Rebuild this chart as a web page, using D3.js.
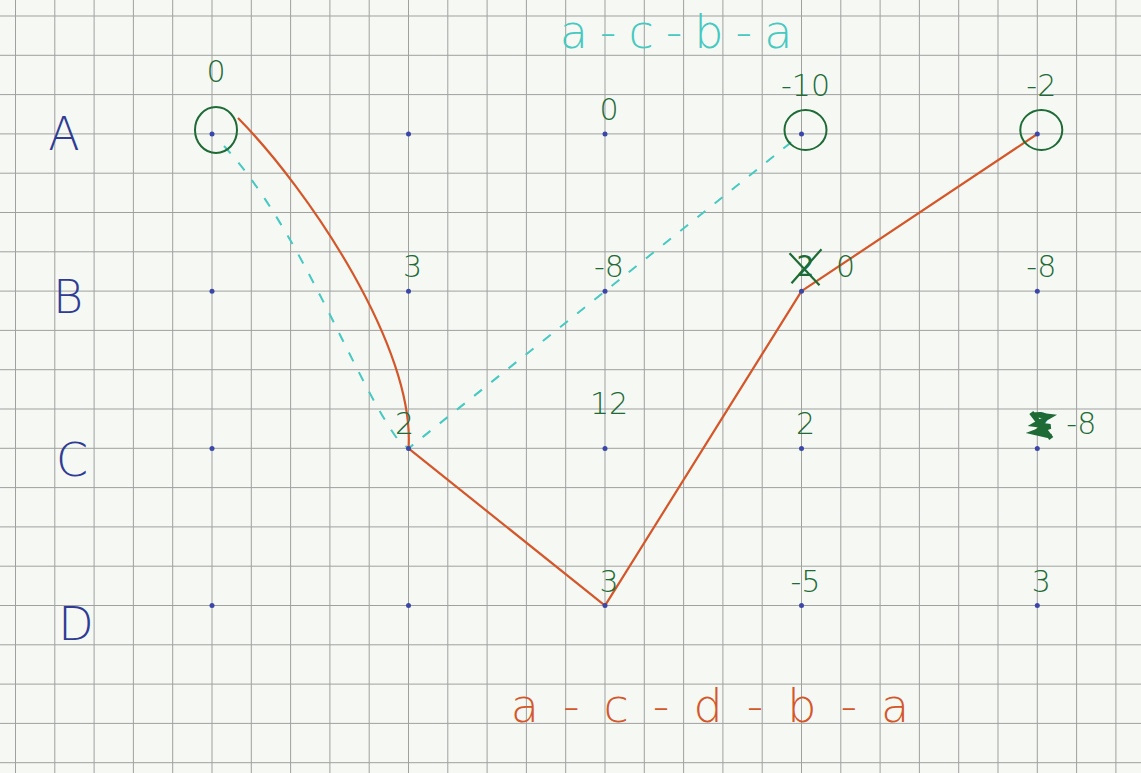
<!DOCTYPE html>
<html>
<head>
<meta charset="utf-8">
<script src="https://cdn.jsdelivr.net/npm/d3@7"></script>
<style>
  html, body { margin: 0; padding: 0; background: #f6f8f4; }
  svg { display: block; }
  text { font-family: "DejaVu Sans", sans-serif; }
</style>
</head>
<body>
<svg id="chart"></svg>
<script>
// stages (columns) and states (rows) of the little shortest-path sketch
const stages = [0, 1, 2, 3, 4];
const states = ["A", "B", "C", "D"];

// green numbers written next to each node (null = nothing written)
const valuesA = ["0", null, "0", "-10", "-2"];
const valuesB = [null, "3", "-8", "0", "-8"];
const valuesC = [null, "2", "12", "2", "-8"];
const valuesD = [null, null, "3", "-5", "3"];

// numbers that were crossed out on the paper
const crossedOut = [
    { state: "B", stage: 3, text: "2" },
    { state: "C", stage: 4, text: "2" }
];

// circled nodes
const circled = [
    { state: "A", stage: 0 },
    { state: "A", stage: 3 },
    { state: "A", stage: 4 }
];

// the two routes, one state per stage
const routeOrange = ["A", "C", "D", "B", "A"];
const routeCyan = ["A", "C", "B", "A"];
const titleCyan = "a-c-b-a";
const titleOrange = "a-c-d-b-a";

const width = 1141;
const height = 773;
const cell = 39.3;
const green = '#1e6b36';

const svg = d3.select('#chart')
    .attr('width', width)
    .attr('height', height);

// squared paper
const gridX = d3.range(15.5, width, cell);
const gridY = d3.range(16, height, cell);

svg.append('rect')
    .attr('width', width)
    .attr('height', height)
    .attr('fill', '#f6f8f4');

svg.append('g')
    .selectAll('line')
    .data(gridX)
    .enter()
    .append('line')
    .attr('x1', d => d).attr('x2', d => d)
    .attr('y1', 0).attr('y2', height)
    .attr('stroke', '#9fa19f')
    .attr('stroke-width', 1);

svg.append('g')
    .selectAll('line')
    .data(gridY)
    .enter()
    .append('line')
    .attr('x1', 0).attr('x2', width)
    .attr('y1', d => d).attr('y2', d => d)
    .attr('stroke', '#9fa19f')
    .attr('stroke-width', 1);

// the last column sits one square further out on the paper
const x = d3.scaleLinear()
    .domain([0, 3, 4])
    .range([212, 212 + 15 * cell, 212 + 21 * cell]);

const y = d3.scalePoint()
    .domain(states)
    .range([134, 134 + 12 * cell]);

const values = { A: valuesA, B: valuesB, C: valuesC, D: valuesD };

// cyan route: wobbly first leg, then straight dashes
svg.append('path')
    .attr('d', () => {
        const pts = routeCyan.map((s, i) => [x(i), y(s)]);
        const p = d3.path();
        const dx = pts[1][0] - pts[0][0], dy = pts[1][1] - pts[0][1];
        p.moveTo(pts[0][0] + 12, pts[0][1] + 12);
        p.bezierCurveTo(pts[0][0] + dx * 0.45, pts[0][1] + dy * 0.3,
                        pts[0][0] + dx * 0.72, pts[0][1] + dy * 0.78,
                        pts[1][0] - 10, pts[1][1] - 8);
        for (let i = 1; i < pts.length; i++) p.lineTo(pts[i][0], pts[i][1]);
        return p.toString();
    })
    .attr('fill', 'none')
    .attr('stroke', '#45c9c1')
    .attr('stroke-width', 2)
    .attr('stroke-dasharray', '10,12');

// orange route: the first leg bows out, the rest nearly straight
svg.append('path')
    .attr('d', () => {
        const pts = routeOrange.map((s, i) => [x(i), y(s)]);
        const p = d3.path();
        const x0 = pts[0][0] + 26, y0 = pts[0][1] - 16;
        const dx = pts[1][0] - x0, dy = pts[1][1] - y0;
        p.moveTo(x0, y0);
        p.bezierCurveTo(x0 + dx * 0.42, y0 + dy * 0.22,
                        pts[1][0] + 7, y0 + dy * 0.7,
                        pts[1][0], pts[1][1]);
        for (let i = 2; i < pts.length; i++) p.lineTo(pts[i][0], pts[i][1]);
        return p.toString();
    })
    .attr('fill', 'none')
    .attr('stroke', '#d4572a')
    .attr('stroke-width', 2.2)
    .attr('stroke-linejoin', 'round');

// node dots
const nodes = [];
states.forEach(s => stages.forEach(st => nodes.push({ state: s, stage: st, value: values[s][st] })));

svg.append('g')
    .selectAll('circle')
    .data(nodes)
    .enter()
    .append('circle')
    .attr('cx', d => x(d.stage))
    .attr('cy', d => y(d.state))
    .attr('r', 2.5)
    .attr('fill', '#3b47a8');

// circled nodes
svg.append('g')
    .selectAll('ellipse')
    .data(circled)
    .enter()
    .append('ellipse')
    .attr('cx', d => x(d.stage) + 4)
    .attr('cy', d => y(d.state) - 4)
    .attr('rx', 21)
    .attr('ry', d => d.stage === 0 ? 23 : 20)
    .attr('fill', 'none')
    .attr('stroke', green)
    .attr('stroke-width', 2);

// green numbers
const isCircled = d => circled.some(c => c.state === d.state && c.stage === d.stage);
const isCrossed = d => crossedOut.some(c => c.state === d.state && c.stage === d.stage);

svg.append('g')
    .selectAll('text')
    .data(nodes.filter(d => d.value !== null))
    .enter()
    .append('text')
    .attr('x', d => x(d.stage) + (isCrossed(d) ? 44 : (d.state === 'C' && d.stage === 1 ? -4 : 4)))
    .attr('y', d => y(d.state) - (isCircled(d) ? (d.stage === 0 ? 52 : 38) : (d.state === 'C' && d.stage === 2 ? 34 : 14)))
    .attr('text-anchor', 'middle')
    .attr('fill', green)
    .style('font-size', '30px')
    .style('font-weight', '300')
    .text(d => d.value);

// crossed out numbers
const cross = svg.append('g')
    .selectAll('g')
    .data(crossedOut)
    .enter()
    .append('g')
    .attr('transform', d => `translate(${x(d.stage) + 4},${y(d.state) - 26})`);

cross.append('text')
    .attr('text-anchor', 'middle')
    .attr('y', 11)
    .attr('fill', green)
    .style('font-size', '28px')
    .text(d => d.text);

cross.append('path')
    .attr('d', d => d.state === 'C'
        ? 'M-8,-8L8,-6L-6,2L9,4L-7,10L10,14M-10,-10L10,16'
        : 'M-16,-12L14,20M16,-16L-14,18')
    .attr('fill', 'none')
    .attr('stroke', green)
    .attr('stroke-width', d => d.state === 'C' ? 5 : 2.2);

// row labels
svg.append('g')
    .selectAll('text')
    .data(states)
    .enter()
    .append('text')
    .attr('x', (d, i) => 64 + i * 4)
    .attr('y', (d, i) => y(d) + 16 + i * 6)
    .attr('text-anchor', 'middle')
    .attr('fill', '#2f3c94')
    .style('font-size', '46px')
    .style('font-weight', '200')
    .text(d => d);

// route names
svg.append('text')
    .attr('x', 682)
    .attr('y', 48)
    .attr('text-anchor', 'middle')
    .attr('fill', '#45c9c1')
    .style('font-size', '46px')
    .style('font-weight', '300')
    .style('letter-spacing', '12px')
    .text(titleCyan);

svg.append('text')
    .attr('x', 722)
    .attr('y', 722)
    .attr('text-anchor', 'middle')
    .attr('fill', '#d4572a')
    .style('font-size', '46px')
    .style('font-weight', '300')
    .style('letter-spacing', '24px')
    .text(titleOrange);
</script>
</body>
</html>
